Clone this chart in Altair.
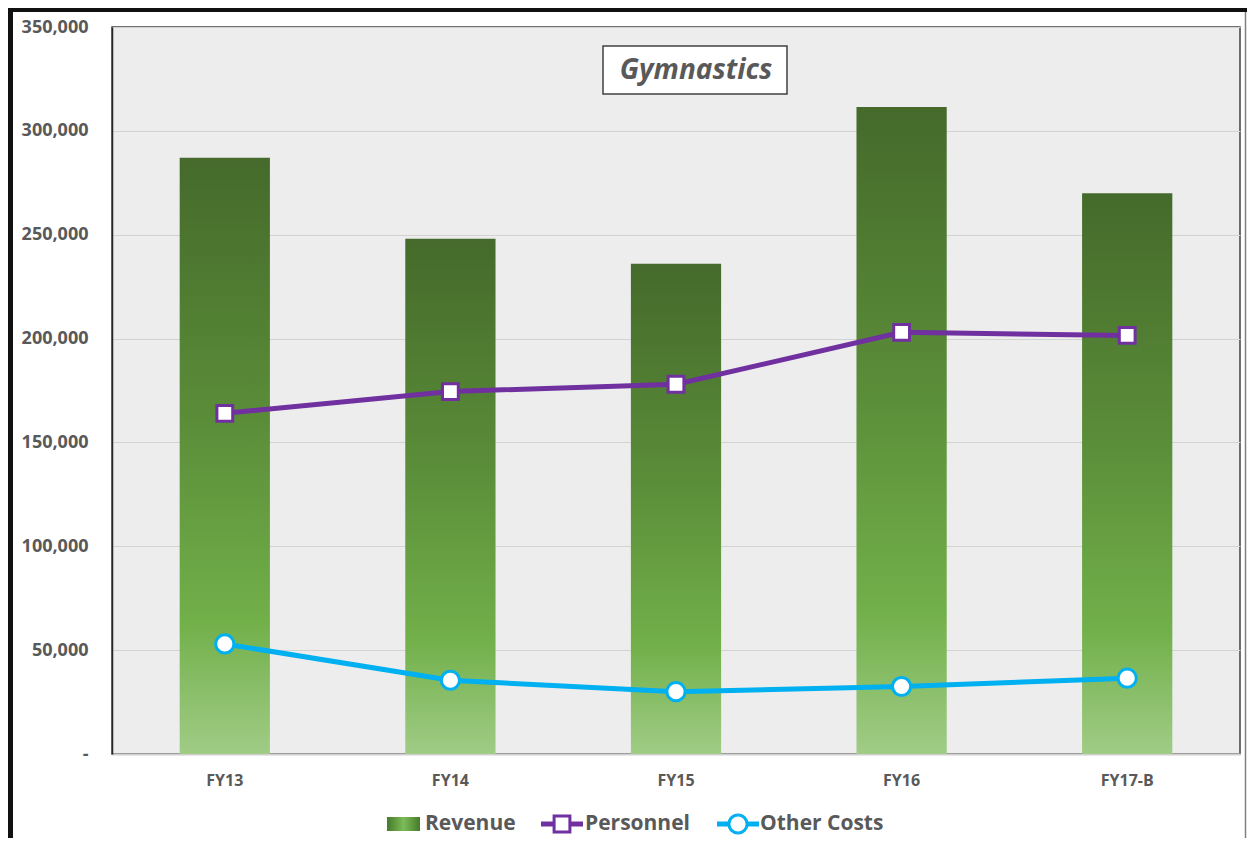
import altair as alt
import pandas as pd

# ---- data ----
categories = ["FY13", "FY14", "FY15", "FY16", "FY17-B"]
revenue = [287000, 248000, 236000, 311500, 270000]
personnel = [164000, 174500, 178000, 203000, 201500]
other_costs = [53000, 35500, 30000, 32500, 36500]
series_names = ["Revenue", "Personnel", "Other Costs"]
y_ticks = [0, 50000, 100000, 150000, 200000, 250000, 300000, 350000]
title_text = "Gymnastics"

FONT = "Open Sans"
TXT = "#595959"
PURPLE = "#7030a0"
CYAN = "#00b0f0"

bar_df = pd.DataFrame({"period": categories, "value": revenue})
line_df = pd.DataFrame({
    "period": categories * 2,
    "value": personnel + other_costs,
    "series": [series_names[1]] * len(categories) + [series_names[2]] * len(categories),
})
one = alt.Data(values=[{"k": 0}])

W, H = 1128, 727

x_enc = alt.X(
    "period:N", sort=categories,
    scale=alt.Scale(paddingInner=0, paddingOuter=0),
    axis=alt.Axis(title=None, labelAngle=0, ticks=False, grid=False,
                  domainColor="#d0d0d0", domainWidth=2,
                  labelFont=FONT, labelFontSize=16, labelFontWeight="bold",
                  labelColor=TXT, labelPadding=18),
)
y_scale = alt.Scale(domain=[0, 350000], nice=False)
y_axis = alt.Axis(
    title=None, values=y_ticks, ticks=False, grid=True,
    gridColor="#d2d2d2", gridWidth=1,
    domainColor="#262626", domainWidth=1.5,
    labelExpr="datum.value == 0 ? '-' : format(datum.value, ',')",
    labelFont=FONT, labelFontSize=18, labelFontWeight="bold",
    labelColor=TXT, labelPadding=24, labelFlush=False, labelOverlap=False,
)

bar_grad = alt.LinearGradient(
    gradient="linear", x1=0, y1=0, x2=0, y2=1,
    stops=[
        alt.GradientStop(color="#456a2b", offset=0),
        alt.GradientStop(color="#5b8e39", offset=0.45),
        alt.GradientStop(color="#72b04a", offset=0.78),
        alt.GradientStop(color="#a0cc86", offset=1),
    ],
)

bars = alt.Chart(bar_df).mark_bar(
    color=bar_grad, width=alt.RelativeBandSize(0.4)
).encode(
    x=x_enc,
    y=alt.Y("value:Q", scale=y_scale, axis=y_axis),
)

line_color = alt.Scale(domain=series_names[1:], range=[PURPLE, CYAN])

lines = alt.Chart(line_df).mark_line(strokeWidth=5).encode(
    x=x_enc,
    y=alt.Y("value:Q", scale=y_scale),
    color=alt.Color("series:N", scale=line_color, legend=None),
    detail="series:N",
)

points = alt.Chart(line_df).mark_point(
    fill="white", fillOpacity=1, opacity=1, strokeWidth=3
).encode(
    x=x_enc,
    y=alt.Y("value:Q", scale=y_scale),
    stroke=alt.Stroke("series:N", scale=line_color, legend=None),
    shape=alt.Shape("series:N", scale=alt.Scale(domain=series_names[1:], range=["square", "circle"]), legend=None),
    size=alt.Size("series:N", scale=alt.Scale(domain=series_names[1:], range=[250, 330]), legend=None),
)

# ---- title box ----
title_box = alt.Chart(one).mark_rect(fill="white", stroke="#404040", strokeWidth=1.5).encode(
    x=alt.value(491), x2=alt.value(675), y=alt.value(19), y2=alt.value(67)
)
title_txt = alt.Chart(one).mark_text(
    font=FONT, fontSize=28, fontWeight="bold", fontStyle="italic", color=TXT,
    align="center", baseline="middle"
).encode(x=alt.value(584), y=alt.value(44), text=alt.value(title_text))

# ---- manual legend ----
LY = 797
leg_grad = alt.LinearGradient(
    gradient="linear", x1=0, y1=0, x2=1, y2=0,
    stops=[
        alt.GradientStop(color="#467a2a", offset=0),
        alt.GradientStop(color="#7cbc58", offset=0.5),
        alt.GradientStop(color="#467a2a", offset=1),
    ],
)
leg_rev = alt.Chart(one).mark_rect(color=leg_grad).encode(
    x=alt.value(275), x2=alt.value(308), y=alt.value(LY - 7), y2=alt.value(LY + 7)
)
leg_p_line = alt.Chart(one).mark_rule(color=PURPLE, strokeWidth=5).encode(
    x=alt.value(429), x2=alt.value(471), y=alt.value(LY)
)
leg_p_pt = alt.Chart(one).mark_point(
    shape="square", size=250, fill="white", fillOpacity=1, stroke=PURPLE, strokeWidth=3, opacity=1
).encode(x=alt.value(450), y=alt.value(LY))
leg_o_line = alt.Chart(one).mark_rule(color=CYAN, strokeWidth=5).encode(
    x=alt.value(605), x2=alt.value(647), y=alt.value(LY)
)
leg_o_pt = alt.Chart(one).mark_point(
    shape="circle", size=330, fill="white", fillOpacity=1, stroke=CYAN, strokeWidth=3, opacity=1
).encode(x=alt.value(626), y=alt.value(LY))

def leg_text(label, xpos):
    return alt.Chart(one).mark_text(
        font=FONT, fontSize=21, fontWeight="bold", color=TXT, align="left", baseline="middle"
    ).encode(x=alt.value(xpos), y=alt.value(LY), text=alt.value(label))

leg_t1 = leg_text(series_names[0], 313)
leg_t2 = leg_text(series_names[1], 473)
leg_t3 = leg_text(series_names[2], 648)

# ---- outer frame ----
frame_top = alt.Chart(one).mark_rule(color="#111111", strokeWidth=4).encode(
    x=alt.value(-104), x2=alt.value(1135), y=alt.value(-17)
)
frame_left = alt.Chart(one).mark_rule(color="#111111", strokeWidth=5).encode(
    x=alt.value(-101.5), y=alt.value(-19), y2=alt.value(811)
)
frame_right = alt.Chart(one).mark_rule(color="#7f7f7f", strokeWidth=1.5).encode(
    x=alt.value(1133.5), y=alt.value(-15), y2=alt.value(811)
)

chart = alt.layer(
    bars, lines, points, title_box, title_txt,
    leg_rev, leg_p_line, leg_p_pt, leg_o_line, leg_o_pt, leg_t1, leg_t2, leg_t3,
    frame_top, frame_left, frame_right,
).properties(
    width=W, height=H,
    autosize=alt.AutoSizeParams(type="none"),
    padding={"left": 104, "top": 19, "right": 7, "bottom": 84},
    background="white",
).configure_view(
    fill="#ededed", stroke="#404040", strokeWidth=1.5
)

chart.save("out.html", embed_options={"renderer": "svg", "actions": False})
